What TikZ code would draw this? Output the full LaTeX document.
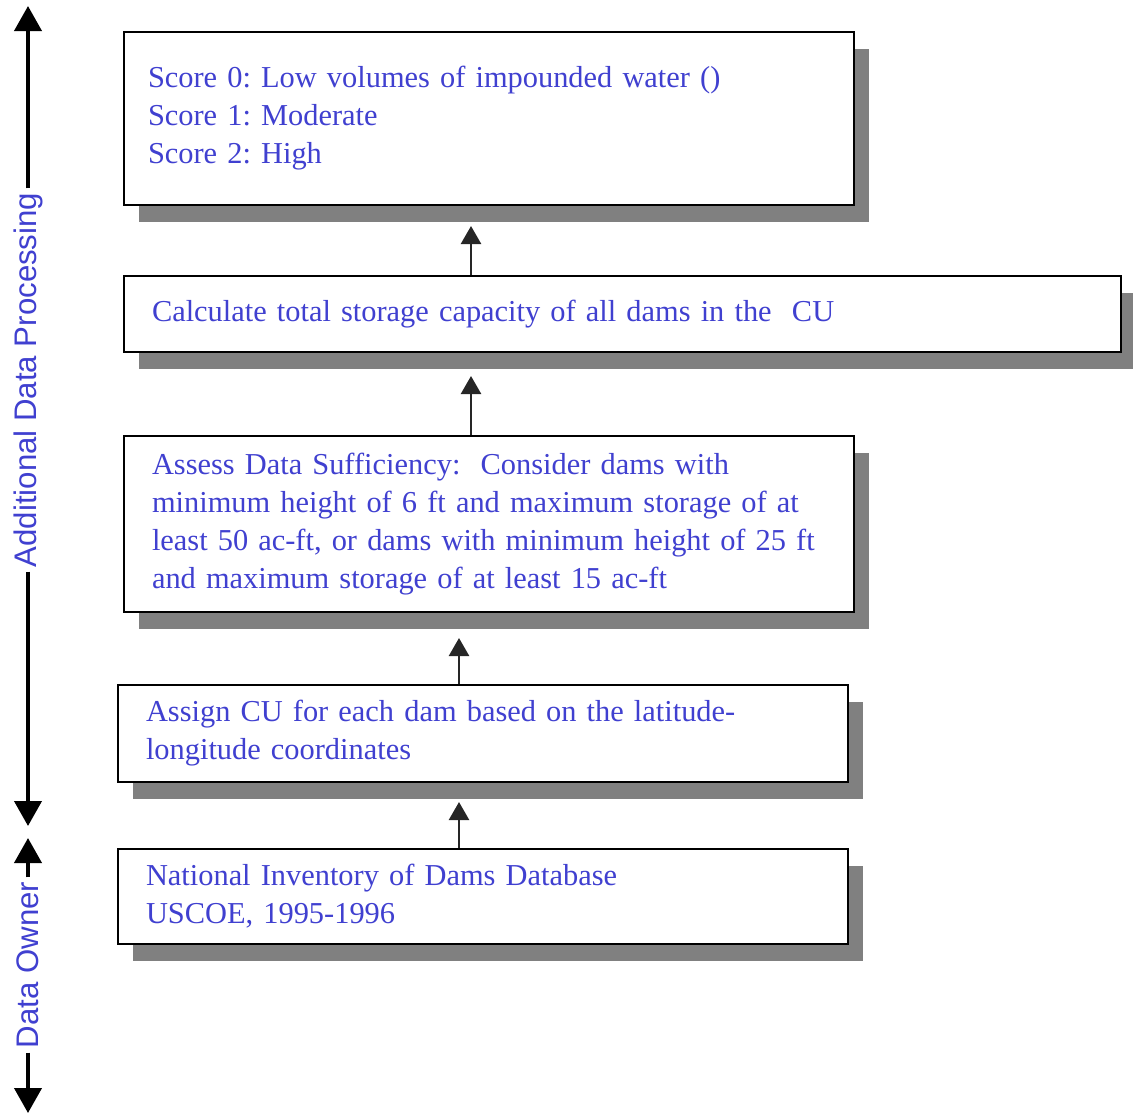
\documentclass[tikz,border=0pt]{standalone}
\usepackage{fontspec}
\setmainfont{Liberation Serif}
\setsansfont{Liberation Sans}
\usepackage{tikz}
\usetikzlibrary{positioning, arrows.meta, shadows}
\definecolor{labelblue}{RGB}{64,64,208}
\definecolor{shadowgray}{RGB}{128,128,128}
\frenchspacing
\tikzset{
    box/.style={draw, line width=1pt, fill=white, align=left, text=labelblue,
      anchor=north west, inner xsep=14pt, text width=#1,
      font=\fontsize{15.2}{19}\selectfont,
      general shadow={fill=shadowgray, shadow xshift=7.5pt, shadow yshift=-8.5pt}},
    box/.default=337pt,
    flow/.style={draw=black!85, line width=1.25pt, -{Triangle[width=10pt, length=9pt]}},
    axis/.style={line width=2pt, -{Triangle[width=13.5pt, length=12.5pt]}},
    axislabel/.style={rotate=90, text=labelblue, inner sep=2pt, font=\sffamily\fontsize{15.6}{18}\selectfont},
}

\begin{document}
\begin{tikzpicture}[x=0.5pt, y=-0.5pt]
    \useasboundingbox (0,0) rectangle (1133,1116);

    \node[box=341pt, inner xsep=12pt, minimum height=86.5pt] (score) at (123,31)
      {Score 0: Low volumes of impounded water ()\\Score 1: Moderate\\Score 2: High};
    \node[box=470.5pt, minimum height=38pt, below right=34.5pt and 0pt of score.south west] (capacity)
      {Calculate total storage capacity of all dams in the\ \ CU};
    \node[box, minimum height=88pt, below right=41pt and 0pt of capacity.south west] (suff)
      {Assess Data Sufficiency:\ \ Consider dams with\\minimum height of 6 ft and maximum storage of at\\least 50 ac-ft, or dams with minimum height of 25 ft\\and maximum storage of at least 15 ac-ft};
    \node[box, minimum height=48.5pt, below right=35.5pt and -3pt of suff.south west] (assign)
      {Assign CU for each dam based on the latitude-\\longitude coordinates};
    \node[box, minimum height=47.5pt, below right=32.5pt and 0pt of assign.south west] (inventory)
      {National Inventory of Dams Database\\USCOE, 1995-1996};

    \draw[flow] ([xshift=-9pt]score.south |- capacity.north) -- ([xshift=-9pt, yshift=-10pt]score.south);
    \draw[flow] ([xshift=-9pt]suff.north) -- ([xshift=-9pt, yshift=-11.5pt]suff.north |- capacity.south);
    \draw[flow] ([xshift=-12pt]assign.north) -- ([xshift=-12pt, yshift=-12.5pt]assign.north |- suff.south);
    \draw[flow] ([xshift=-12pt]inventory.north) -- ([xshift=-12pt, yshift=-9.5pt]inventory.north |- assign.south);

    % side axis
    \node[axislabel] (process) at (28,380) {Additional Data Processing};
    \coordinate (processtop) at (28,6);
    \coordinate (processbot) at (28,826);
    \draw[axis] (process.east) -- (processtop);
    \draw[axis] (process.west) -- (processbot);

    \node[axislabel] (owner) at (28,965) {Data Owner};
    \coordinate (ownertop) at (28,838);
    \coordinate (ownerbot) at (28,1113);
    \draw[axis] (owner.east) -- (ownertop);
    \draw[axis] (owner.west) -- (ownerbot);
\end{tikzpicture}
\end{document}
